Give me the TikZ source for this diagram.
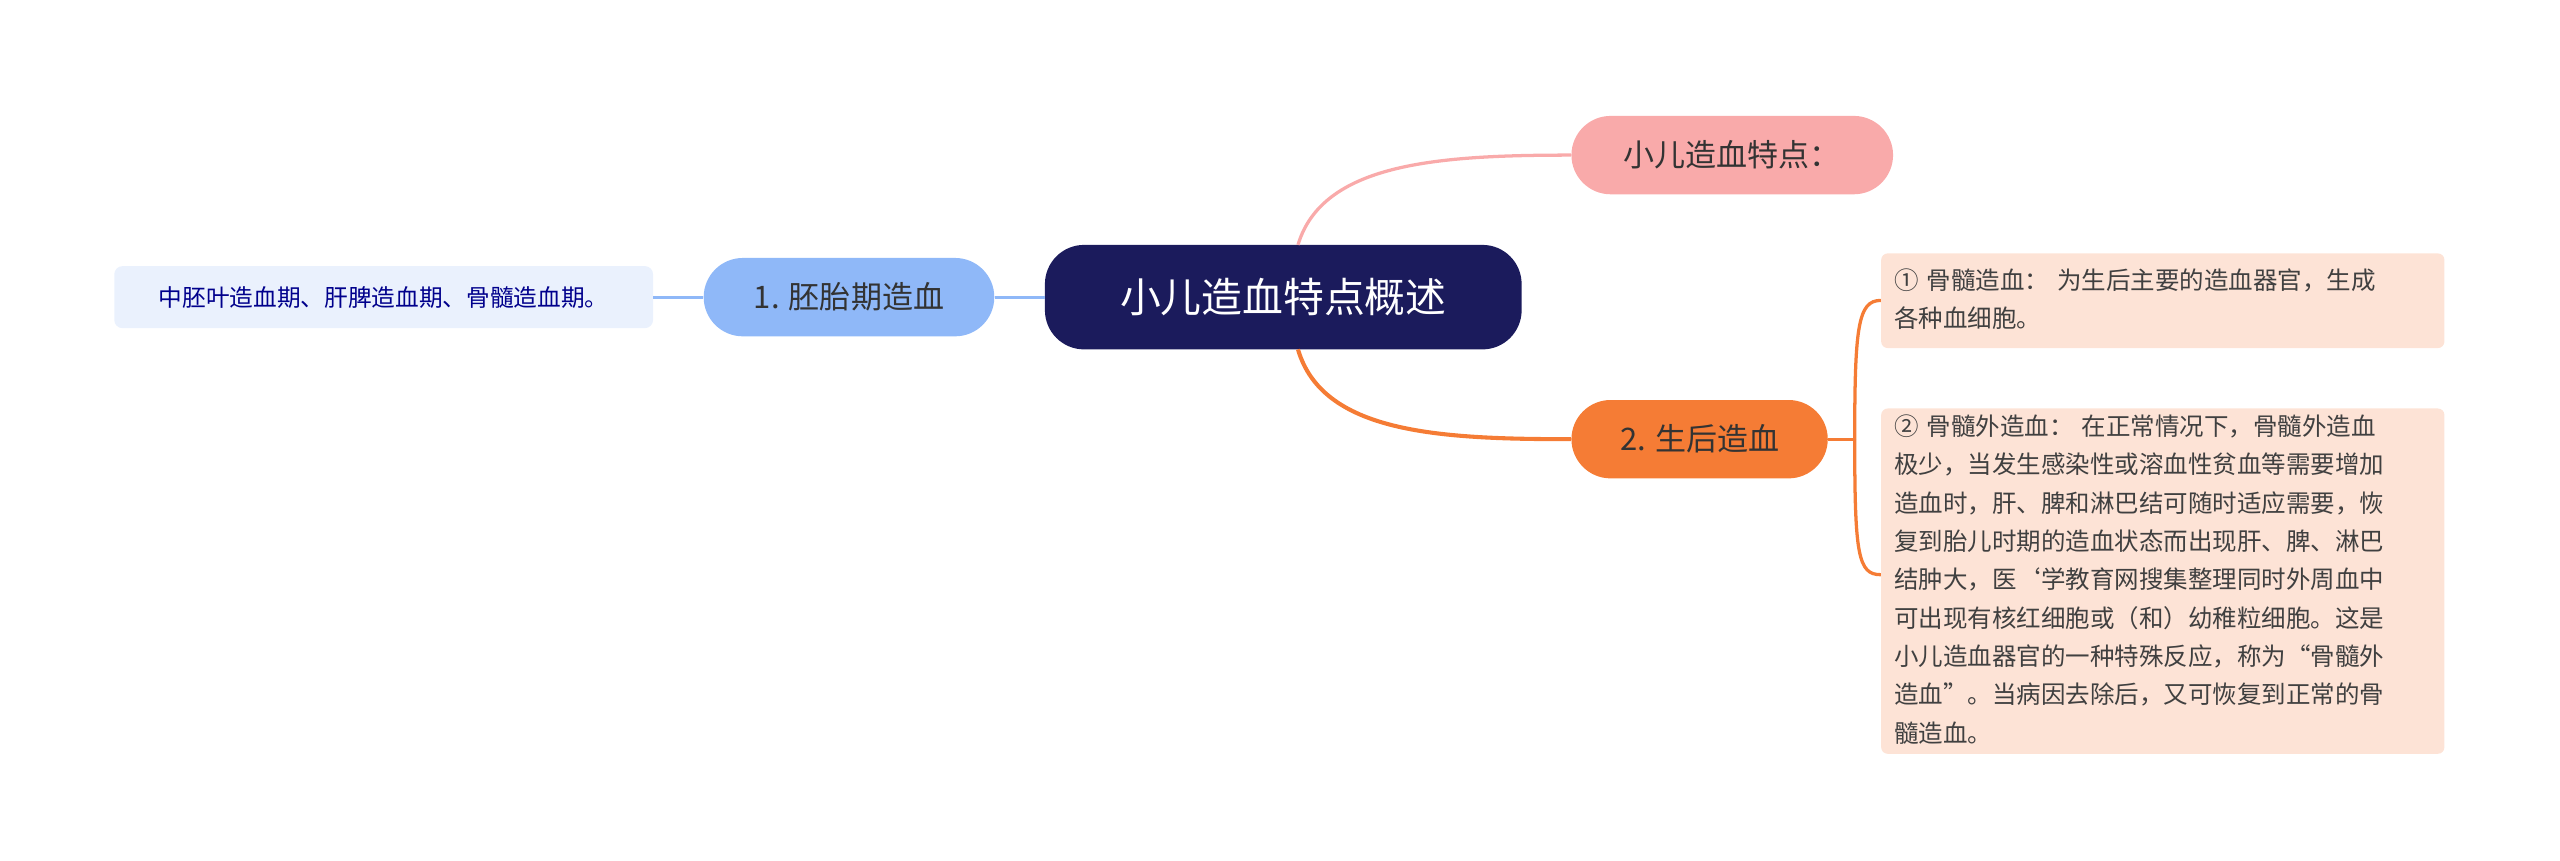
\documentclass[tikz,border=0pt]{standalone}
\usepackage{fontspec}
\setmainfont{Noto Sans CJK SC}
\begin{document}
\begin{tikzpicture}[x=1pt,y=-1pt,
  base/.style={rounded corners=#1,inner sep=0pt,anchor=center},
  leaf/.style={rounded corners=4pt,inner sep=0pt,align=left,anchor=north west,font=\fontsize{15}{23.5}\selectfont,text=black!75}]
\useasboundingbox (0,0) rectangle (1568,527);
\definecolor{navy}{HTML}{1B1B5C}
\definecolor{pinkc}{HTML}{F9AAAA}
\definecolor{orangec}{HTML}{F57C35}
\definecolor{bluec}{HTML}{8FB8F8}
\definecolor{leafb}{HTML}{EAF1FD}
\definecolor{leafo}{HTML}{FDE3D6}
\node[base=24pt,fill=navy,minimum width=292pt,minimum height=64pt,text=white,font=\fontsize{25}{28}\selectfont] (c) at (786,182) {小儿造血特点概述};
\node[base=24pt,fill=pinkc,minimum width=197pt,minimum height=48pt,font=\fontsize{19}{22}\selectfont,text=black!80] (p) at (1061,95) {小儿造血特点：};
\node[base=24pt,fill=orangec,minimum width=157pt,minimum height=48pt,font=\fontsize{19}{22}\selectfont,text=black!80] (o) at (1041,269) {2. 生后造血};
\node[base=24pt,fill=bluec,minimum width=178pt,minimum height=48pt,font=\fontsize{19}{22}\selectfont,text=black!80] (b) at (520,182) {1. 胚胎期造血};
\node[base=5pt,fill=leafb,minimum width=330pt,minimum height=38pt,text=blue!55!black,font=\fontsize{14.5}{18}\selectfont] (l) at (235,182) {中胚叶造血期、肝脾造血期、骨髓造血期。};
\node[leaf,fill=leafo,minimum width=345pt,minimum height=58pt,text width=345pt] (r1) at (1152,155) {\hspace*{8pt}\begin{tabular}{@{}l@{}}\rule{0pt}{15pt}① 骨髓造血：  为生后主要的造血器官，生成\\各种血细胞。\end{tabular}};
\node[leaf,fill=leafo,minimum width=345pt,minimum height=206pt,text width=345pt] (r2) at (1152,250) {\hspace*{8pt}\begin{tabular}{@{}l@{}}\rule{0pt}{16pt}② 骨髓外造血：  在正常情况下，骨髓外造血\\极少，当发生感染性或溶血性贫血等需要增加\\造血时，肝、脾和淋巴结可随时适应需要，恢\\复到胎儿时期的造血状态而出现肝、脾、淋巴\\结肿大，医`学教育网搜集整理同时外周血中\\可出现有核红细胞或（和）幼稚粒细胞。这是\\小儿造血器官的一种特殊反应，称为“骨髓外\\造血”。当病因去除后，又可恢复到正常的骨\\髓造血。\end{tabular}};
\draw[pinkc,line width=2pt] (795,150) .. controls (810,100) and (880,95) .. (p.west);
\draw[orangec,line width=2.5pt] (795,214) .. controls (810,265) and (880,269) .. (o.west);
\draw[bluec,line width=2pt] (c.west) -- (b.east);
\draw[bluec,line width=2pt] (b.west) -- (l.east);
\draw[orangec,line width=2pt] (o.east) -- (1136,269);
\draw[orangec,line width=2pt] (1136,269) .. controls (1136,200) and (1138,184) .. (1152,184);
\draw[orangec,line width=2pt] (1136,269) .. controls (1136,340) and (1138,352) .. (1152,352);
\end{tikzpicture}
\end{document}
